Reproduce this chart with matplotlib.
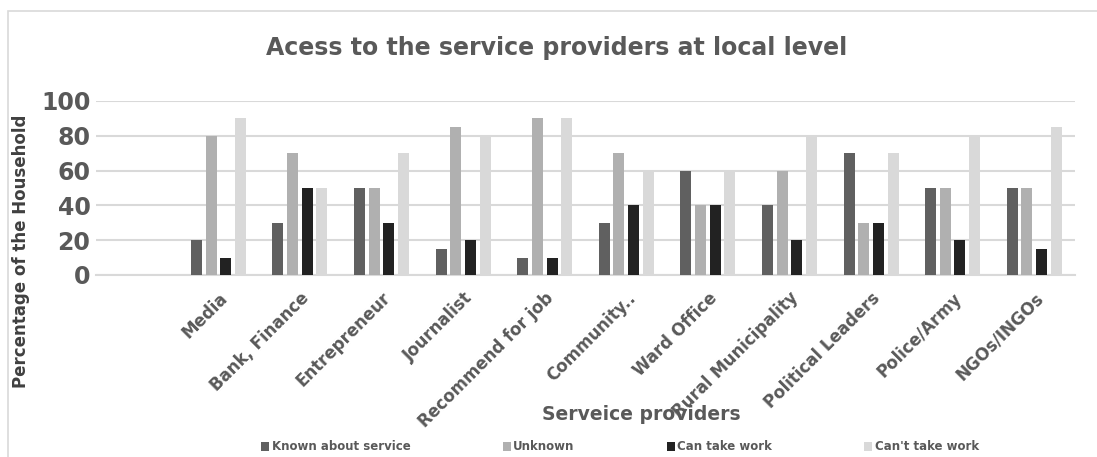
import matplotlib
matplotlib.use("Agg")
import matplotlib.pyplot as plt
import numpy as np
from matplotlib.patches import Rectangle

categories = ["", "Media", "Bank, Finance", "Entrepreneur", "Journalist", "Recommend for job",
              "Community..", "Ward Office", "Rural Municipality", "Political Leaders",
              "Police/Army", "NGOs/INGOs"]
known = [np.nan, 20, 30, 50, 15, 10, 30, 60, 40, 70, 50, 50]
unknown = [np.nan, 80, 70, 50, 85, 90, 70, 40, 60, 30, 50, 50]
can_take = [np.nan, 10, 50, 30, 20, 10, 40, 40, 20, 30, 20, 15]
cant_take = [np.nan, 90, 50, 70, 80, 90, 60, 60, 80, 70, 80, 85]
series_names = ["Known about service", "Unknown", "Can take work", "Can't take work"]
colors = ["#606060", "#b0b0b0", "#222222", "#d9d9d9"]
yticks = [0, 20, 40, 60, 80, 100]

plt.rcParams['font.family'] = ['DejaVu Sans']
W, H = 1097, 457
fig = plt.figure(figsize=(W / 100, H / 100), dpi=100)
ax = fig.add_axes([96 / W, 1 - 275 / H, (1075 - 96) / W, (275 - 101) / H])

x = np.arange(len(categories))
bw = 0.135
pitch = 0.18
for i, (vals, c, name) in enumerate(zip([known, unknown, can_take, cant_take], colors, series_names)):
    ax.bar(x + (i - 1.5) * pitch, vals, width=bw, color=c, label=name, zorder=3)

ax.set_xlim(-0.5, len(categories) - 0.5)
ax.set_ylim(0, 100)
ax.set_yticks(yticks)
ax.set_yticklabels([str(v) for v in yticks], fontsize=17, fontweight='bold', color='#595959')
ax.set_xticks(x)
ax.set_xticklabels(categories, rotation=45, ha='right', rotation_mode='anchor',
                   fontsize=12, fontweight='bold', color='#595959')
ax.tick_params(axis='both', length=0)
ax.tick_params(axis='x', pad=10)
ax.tick_params(axis='y', pad=4)
ax.grid(axis='y', color='#d9d9d9', linewidth=1.5, zorder=0)
ax.set_axisbelow(True)
for s in ['top', 'right', 'left']:
    ax.spines[s].set_visible(False)
ax.spines['bottom'].set_color('#d9d9d9')
ax.spines['bottom'].set_linewidth(1.5)

fig.text(557 / W, 1 - 48 / H, "Acess to the service providers at local level", ha='center', va='center',
         fontsize=17, fontweight='bold', color='#595959')
fig.text(641 / W, 1 - 415 / H, "Serveice providers", ha='center', va='center',
         fontsize=13.5, fontweight='bold', color='#595959')
fig.text(21 / W, 1 - 251 / H, "Percentage of the Household", ha='center', va='center', rotation=90,
         fontsize=12, fontweight='bold', color='#404040')

handles, labels = ax.get_legend_handles_labels()
leg = fig.legend(handles, labels, loc='center', bbox_to_anchor=(620 / W, 1 - 447 / H), ncol=4,
                 frameon=False, handlelength=0.7, handleheight=0.7, handletextpad=0.2,
                 columnspacing=7.8, prop={'size': 8.5, 'weight': 'bold'})
for t in leg.get_texts():
    t.set_color('#595959')

fig.patches.append(Rectangle((8 / W, -0.1), 1.2, 1 - 11 / H + 0.1, transform=fig.transFigure,
                             fill=False, edgecolor='#d9d9d9', linewidth=1.2))

fig.savefig("out.png", dpi=100)
